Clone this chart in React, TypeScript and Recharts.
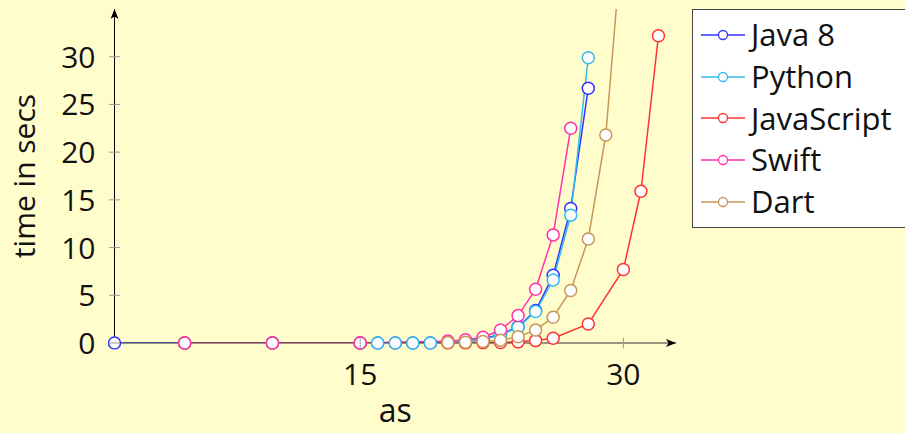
import React from 'react';
import { LineChart, Line, XAxis, YAxis, Legend, Label } from 'recharts';

const seriesNames = ['Java 8', 'Python', 'JavaScript', 'Swift', 'Dart'];
const seriesColors = ['#3333ff', '#33bbee', '#ff3333', '#ff33aa', '#c8965a'];

const javaX = [1, 5, 10, 15, 16, 17, 18, 19, 20, 21, 22, 23, 24, 25, 26, 27, 28];
const javaY = [0, 0, 0, 0, 0, 0, 0, 0, 0.1, 0.22, 0.45, 0.9, 1.7, 3.4, 7.1, 14.1, 26.7];
const pythonX = [5, 10, 15, 16, 17, 18, 19, 20, 21, 22, 23, 24, 25, 26, 27, 28];
const pythonY = [0, 0, 0, 0, 0, 0, 0, 0.1, 0.2, 0.4, 0.8, 1.65, 3.3, 6.6, 13.4, 29.9];
const jsX = [5, 10, 15, 20, 21, 22, 23, 24, 25, 26, 28, 30, 31, 32];
const jsY = [0, 0, 0, 0, 0, 0.02, 0.05, 0.12, 0.25, 0.5, 2.0, 7.7, 15.9, 32.2];
const swiftX = [5, 10, 15, 20, 21, 22, 23, 24, 25, 26, 27];
const swiftY = [0, 0, 0, 0.2, 0.35, 0.6, 1.36, 2.87, 5.63, 11.33, 22.5];
const dartX = [20, 21, 22, 23, 24, 25, 26, 27, 28, 29, 30];
const dartY = [0.04, 0.08, 0.15, 0.3, 0.65, 1.35, 2.7, 5.5, 10.9, 21.8, 44];

const xTicks = [15, 30];
const yTicks = [0, 5, 10, 15, 20, 25, 30];

const toPoints = (xs: number[], ys: number[]) => xs.map((x, i) => ({ x, y: ys[i] }));
const seriesData = [
  toPoints(javaX, javaY),
  toPoints(pythonX, pythonY),
  toPoints(jsX, jsY),
  toPoints(swiftX, swiftY),
  toPoints(dartX, dartY),
];

const FONT = "'Open Sans', sans-serif";

const YTick = (props: any) => {
  const { x, y, payload } = props;
  return (
    <g>
      <line x1={x - 5.5} x2={x + 5.5} y1={y} y2={y} stroke="#999" strokeWidth={1} />
      <text x={x - 19} y={y + 11} textAnchor="end" fontSize={30} fontFamily={FONT} fill="#111">
        {payload.value}
      </text>
    </g>
  );
};

const XTick = (props: any) => {
  const { x, y, payload } = props;
  return (
    <g>
      <line x1={x} x2={x} y1={y - 5.5} y2={y + 5.5} stroke="#999" strokeWidth={1} />
      <text x={x} y={y + 42} textAnchor="middle" fontSize={30} fontFamily={FONT} fill="#111">
        {payload.value}
      </text>
    </g>
  );
};

const LegendBox = () => (
  <div
    style={{
      boxSizing: 'border-box',
      width: 214,
      height: 219,
      border: '1px solid #444',
      background: '#ffffff',
      paddingTop: 4,
      fontFamily: FONT,
    }}
  >
    {seriesNames.map((name, i) => (
      <div key={name} style={{ display: 'flex', alignItems: 'center', height: 41.7 }}>
        <svg width={44} height={14} style={{ marginLeft: 8, flexShrink: 0 }}>
          <line x1={0} x2={44} y1={7} y2={7} stroke={seriesColors[i]} strokeWidth={1.5} />
          <circle cx={22} cy={7} r={4.5} fill="#fff" stroke={seriesColors[i]} strokeWidth={1.3} />
        </svg>
        <span style={{ marginLeft: 6, fontSize: 31, color: '#111', lineHeight: 1 }}>{name}</span>
      </div>
    ))}
  </div>
);

export default function App() {
  return (
    <div
      style={{
        position: 'absolute',
        left: 0,
        top: 0,
        width: 905,
        height: 433,
        background: '#FFFDCC',
        overflow: 'hidden',
      }}
    >
      <LineChart
        width={905}
        height={433}
        margin={{ top: 9, right: 229, bottom: 30, left: 34.5 }}
      >
        <defs>
          <marker
            id="axisArrow"
            viewBox="0 0 10 8"
            refX={10}
            refY={4}
            markerWidth={10}
            markerHeight={8}
            markerUnits="userSpaceOnUse"
            orient="auto-start-reverse"
          >
            <path d="M0,0 L10,4 L0,8 L2.5,4 Z" fill="#000" />
          </marker>
        </defs>
        <XAxis
          type="number"
          dataKey="x"
          domain={[1, 33]}
          ticks={xTicks}
          allowDataOverflow
          height={60}
          tickLine={false}
          tickSize={0}
          tickMargin={0}
          tick={<XTick />}
          axisLine={{ stroke: '#333', strokeWidth: 1, markerEnd: 'url(#axisArrow)' }}
        >
          <Label
            content={(p: any) => {
              const vb = p.viewBox || {};
              return (
                <text
                  x={(vb.x || 0) + (vb.width || 0) / 2}
                  y={422}
                  textAnchor="middle"
                  fontSize={32}
                  fontFamily={FONT}
                  fill="#111"
                >
                  as
                </text>
              );
            }}
          />
        </XAxis>
        <YAxis
          type="number"
          domain={[0, 35]}
          ticks={yTicks}
          allowDataOverflow
          width={80}
          tickLine={false}
          tickSize={0}
          tickMargin={0}
          tick={<YTick />}
          axisLine={{ stroke: '#000', strokeWidth: 1, markerStart: 'url(#axisArrow)' }}
        >
          <Label
            content={(p: any) => {
              const vb = p.viewBox || {};
              const cy = (vb.y || 0) + (vb.height || 0) / 2;
              return (
                <text
                  transform={`translate(35, ${cy}) rotate(-90)`}
                  x={0}
                  y={0}
                  textAnchor="middle"
                  fontSize={30}
                  fontFamily={FONT}
                  fill="#111"
                >
                  time in secs
                </text>
              );
            }}
          />
        </YAxis>
        <Legend
          layout="vertical"
          align="center"
          verticalAlign="middle"
          content={() => <LegendBox />}
          wrapperStyle={{ position: 'absolute', left: 692, top: 9, width: 214, height: 219 }}
        />
        {seriesData.map((d, i) => (
          <Line
            key={'line-' + i}
            data={d}
            dataKey="y"
            name={seriesNames[i]}
            stroke={seriesColors[i]}
            strokeWidth={1.5}
            dot={false}
            activeDot={false}
            isAnimationActive={false}
          />
        ))}
        {seriesData.map((d, i) => (
          <Line
            key={'dots-' + i}
            data={d}
            dataKey="y"
            name={seriesNames[i] + ' markers'}
            stroke="none"
            legendType="none"
            dot={{ r: 6, fill: '#ffffff', stroke: seriesColors[i], strokeWidth: 1.5, clipDot: false }}
            activeDot={false}
            isAnimationActive={false}
          />
        ))}
      </LineChart>
    </div>
  );
}
